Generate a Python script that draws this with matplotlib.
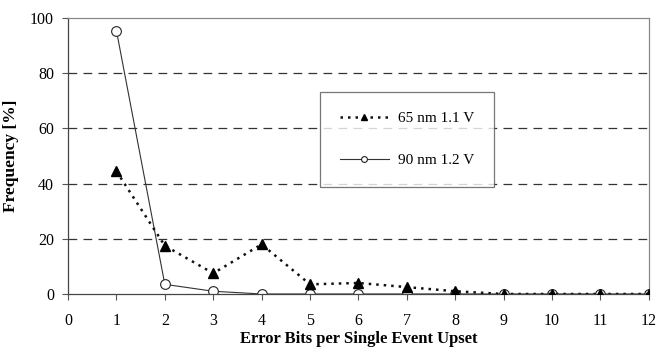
import matplotlib.pyplot as plt

bits = [1, 2, 3, 4, 5, 6, 7, 8, 9, 10, 11, 12]
freq_65nm = [44.5, 17.5, 7.5, 18, 3.5, 4, 2.5, 1, 0, 0, 0, 0]
freq_90nm = [95.5, 3.5, 1, 0, 0, 0, 0, 0, 0, 0, 0, 0]
xticks = list(range(0, 13))
yticks = [0, 20, 40, 60, 80, 100]

plt.rcParams['font.family'] = 'Liberation Serif'

fig = plt.figure(figsize=(6.56, 3.49), dpi=100)
ax = fig.add_axes([0.1037, 0.1576, 0.8853, 0.7904])

for y in [20, 40, 60, 80]:
    ax.axhline(y, color='#333333', lw=0.9, dashes=(7, 5), zorder=1)

ax.plot(bits, freq_90nm, color='#333333', lw=0.8, marker='o', ms=7,
        mfc='white', mec='#222222', mew=0.8, label='90 nm 1.2 V', zorder=2)
ax.plot(bits, freq_65nm, color='#111111', lw=1.8, ls=(0, (1, 2)), marker='^',
        ms=7, mfc='black', mec='black', label='65 nm 1.1 V', zorder=3)

ax.set_xlim(0, 12)
ax.set_ylim(0, 100)
ax.set_xticks(xticks)
ax.set_yticks(yticks)
ax.tick_params(labelsize=11.5, length=4, width=0.8, color='#555555')
ax.tick_params(axis='x', pad=10)
ax.tick_params(axis='y', pad=6)
for s in ax.spines.values():
    s.set_color('#888888')
    s.set_linewidth(0.9)
ax.spines['left'].set_color('#444444')
ax.spines['bottom'].set_color('#444444')

ax.set_xlabel('Error Bits per Single Event Upset', fontsize=12, fontweight='bold', labelpad=1)
ax.set_ylabel('Frequency [%]', fontsize=12.5, fontweight='bold', labelpad=8)

handles, labels = ax.get_legend_handles_labels()
leg = ax.legend(handles[::-1], labels[::-1], loc='upper left',
                bbox_to_anchor=(0.4337, 0.733), frameon=True, fancybox=False,
                edgecolor='#555555', fontsize=11, handlelength=3.2,
                handletextpad=0.6, markerscale=0.6,
                labelspacing=1.85, borderpad=1.3, borderaxespad=0)
leg.get_frame().set_linewidth(0.9)

fig.savefig('out.png', dpi=100)
